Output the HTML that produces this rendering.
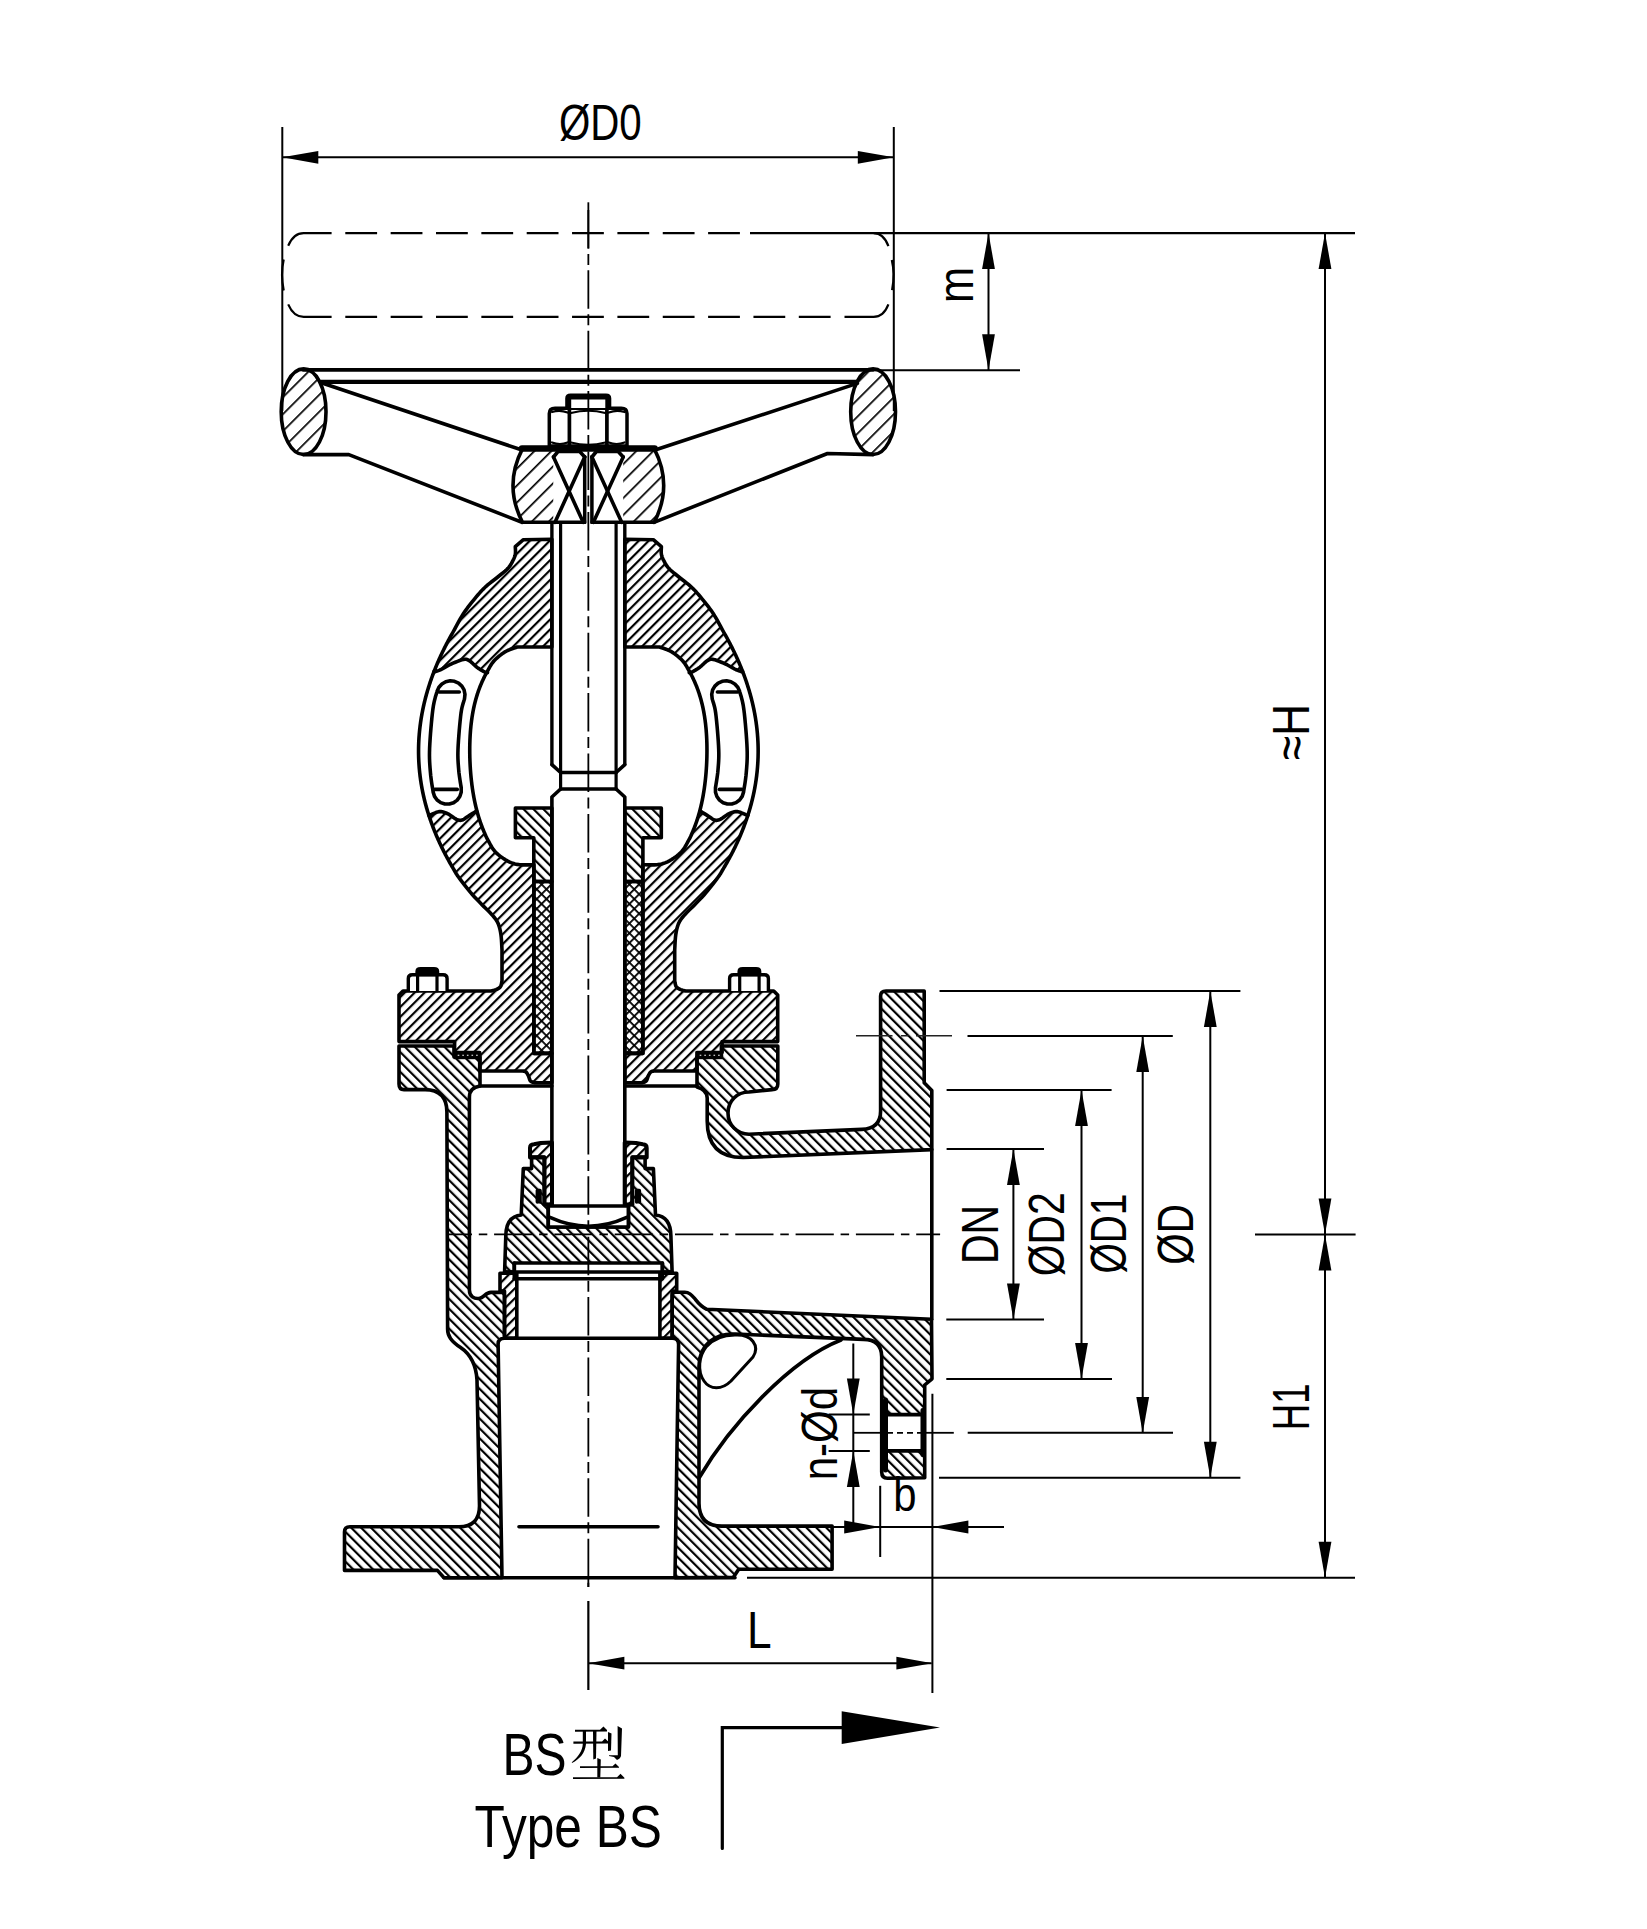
<!DOCTYPE html>
<html><head><meta charset="utf-8"><style>html,body{margin:0;padding:0;background:#fff;overflow:hidden}svg{display:block}</style></head>
<body>
<svg width="1647" height="1929" viewBox="0 0 1647 1929">
<defs>
<pattern id="hs" patternUnits="userSpaceOnUse" width="7" height="7" patternTransform="rotate(45)"><rect x="0" y="0" width="2.2" height="7" fill="#000"/></pattern>
<pattern id="hb" patternUnits="userSpaceOnUse" width="7" height="7" patternTransform="rotate(-45)"><rect x="0" y="0" width="2.2" height="7" fill="#000"/></pattern>
<pattern id="hw" patternUnits="userSpaceOnUse" width="12" height="12" patternTransform="rotate(45)"><rect x="0" y="0" width="1.7" height="12" fill="#000"/></pattern>
<pattern id="hx" patternUnits="userSpaceOnUse" width="6.9" height="6.9" patternTransform="rotate(45)"><rect x="0" y="0" width="1.8" height="6.9" fill="#000"/><rect x="0" y="0" width="6.9" height="1.8" fill="#000"/></pattern>
</defs>
<style>
.o{fill:none;stroke:#000;stroke-width:3.6;stroke-linejoin:round;stroke-linecap:round}
.ot{fill:none;stroke:#000;stroke-width:4;stroke-linejoin:round;stroke-linecap:round}
.d{fill:none;stroke:#000;stroke-width:2}
.c{fill:none;stroke:#000;stroke-width:1.6;stroke-dasharray:38 6 10 6}
.ar{fill:#000;stroke:none}
.hs{fill:url(#hs);stroke:none}
.hb{fill:url(#hb);stroke:none}
.hx{fill:url(#hx);stroke:none}
.hw{fill:url(#hw);stroke:none}
.w{fill:#fff;stroke:none}
.ow{fill:#fff;stroke:#000;stroke-width:3;stroke-linejoin:round}
text{font-family:"Liberation Sans",sans-serif;fill:#000}
</style>
<rect width="1647" height="1929" fill="#fff"/>
<path d="M288.2,245.7 C291.5,238 296.5,233.1 303.6,233.1 L331.6,233.1" fill="none" stroke="#000" stroke-width="2.2"/>
<path d="M283.7,259.5 C281.8,268 281.8,281 283.7,290.5" fill="none" stroke="#000" stroke-width="2.2"/>
<path d="M288.2,304.4 C291.5,312 296.5,316.9 303.6,316.9 L331.6,316.9" fill="none" stroke="#000" stroke-width="2.2"/>
<path d="M873.6,233.1 C880.5,233.1 885.5,238 888.4,246.2" fill="none" stroke="#000" stroke-width="2.2"/>
<path d="M891.8,259.9 C893.8,268 893.8,281 892.1,290.1" fill="none" stroke="#000" stroke-width="2.2"/>
<path d="M844.5,316.9 L873.6,316.9 C880.5,316.9 885.5,312 888.4,304.4" fill="none" stroke="#000" stroke-width="2.2"/>
<line x1="345.3" y1="233.1" x2="750" y2="233.1" stroke="#000" stroke-width="2.2" stroke-dasharray="31.8 13.55"/>
<line x1="345.3" y1="316.9" x2="831" y2="316.9" stroke="#000" stroke-width="2.2" stroke-dasharray="31.8 13.55"/>
<line class="d" x1="750" y1="233.1" x2="1355" y2="233.1" style="stroke-width:2.2"/>
<ellipse class="hw" cx="303.6" cy="411.7" rx="22.4" ry="42.8"/>
<ellipse class="o" cx="303.6" cy="411.7" rx="22.4" ry="42.8"/>
<ellipse class="hw" cx="873.1" cy="411.7" rx="22.4" ry="42.8"/>
<ellipse class="o" cx="873.1" cy="411.7" rx="22.4" ry="42.8"/>
<line class="o" x1="303" y1="369.8" x2="873" y2="369.8" style="stroke-width:3.8"/>
<line class="o" x1="321" y1="381.8" x2="856" y2="381.8" style="stroke-width:4.2"/>
<path class="o" d="M322,383 L522,450" />
<path class="o" d="M303,454.6 L348.8,454.6 L522,522.3" />
<path class="o" d="M857.4,383.4 L655,450" />
<path class="o" d="M873,454.6 L827.5,453.5 L654,522.3" />
<path class="hw" d="M522.5,448.6 L654.2,448.6 Q673.2,485.5 654.2,522.3 L522.5,522.3 Q503.5,485.5 522.5,448.6 Z" />
<rect class="w" x="553.5" y="451" width="31.5" height="71.6"/>
<rect class="w" x="553.5" y="451" width="69.7" height="71.3"/>
<path class="o" d="M522.5,448.6 L654.2,448.6 Q673.2,485.5 654.2,522.3 L522.5,522.3 Q503.5,485.5 522.5,448.6 Z" />
<line class="o" x1="522" y1="448.4" x2="654.6" y2="448.4" style="stroke-width:6.5"/>
<rect class="w" x="586.2" y="519.5" width="4.3" height="5.5"/>
<path class="o" d="M553.5,457 L558,451.5 L579.7,451.5 L584.7,457" />
<path class="o" d="M553.5,457 L583.2,522.3" />
<path class="o" d="M584.7,457 L555,522.3" />
<path class="o" d="M591.9,457 L596.4,451.5 L618.2,451.5 L623.2,457" />
<path class="o" d="M591.9,457 L621.7,522.3" />
<path class="o" d="M623.2,457 L593.4,522.3" />
<line class="o" x1="584.7" y1="457" x2="584.7" y2="522.3" style="stroke-width:3.5"/>
<line class="o" x1="591.9" y1="457" x2="591.9" y2="522.3" style="stroke-width:3.5"/>
<path class="ow" d="M549.3,446 L549.3,413.5 Q549.3,408.2 555,408.2 L621.3,408.2 Q627,408.2 627,413.5 L627,446 Z" style="stroke-width:3.5"/>
<line class="o" x1="569.4" y1="408.2" x2="569.4" y2="446" style="stroke-width:3.7"/>
<line class="o" x1="606.9" y1="408.2" x2="606.9" y2="446" style="stroke-width:3.7"/>
<path class="o" d="M571,413 Q588.2,408.5 605.3,413" style="stroke-width:2.2"/>
<path class="o" d="M571,442.5 Q588.2,447 605.3,442.5" style="stroke-width:2.2"/>
<path class="o" d="M552,412 Q560,409.5 567.5,412.5" style="stroke-width:2.2"/>
<path class="o" d="M552,442.5 Q560,445.5 567.5,442.5" style="stroke-width:2.2"/>
<path class="o" d="M608.8,412.5 Q616.5,409.5 624.5,412" style="stroke-width:2.2"/>
<path class="o" d="M608.8,442.5 Q616.5,445.5 624.5,442.5" style="stroke-width:2.2"/>
<path d="M568.2,408 L568.2,398.5 Q568.2,396.6 570.5,396.6 L606,396.6 Q608.3,396.6 608.3,398.5 L608.3,408" fill="#fff" stroke="#000" stroke-width="6" stroke-linejoin="round"/>
<line class="o" x1="551.9" y1="522.6" x2="551.9" y2="764.6" style="stroke-width:3.4"/>
<line class="o" x1="624.8" y1="522.6" x2="624.8" y2="764.6" style="stroke-width:3.4"/>
<line class="o" x1="560.6" y1="522.6" x2="560.6" y2="789" style="stroke-width:3.2"/>
<line class="o" x1="616.1" y1="522.6" x2="616.1" y2="789" style="stroke-width:3.2"/>
<path class="o" d="M551.9,764.6 L560.6,772.5" />
<path class="o" d="M624.8,764.6 L616.1,772.5" />
<path class="o" d="M560.6,789 L551.9,797 L551.9,1206" />
<path class="o" d="M616.1,789 L624.8,797 L624.8,1206" />
<line class="o" x1="560.6" y1="772.5" x2="616.1" y2="772.5" />
<line class="o" x1="560.6" y1="789" x2="616.1" y2="789" />
<path class="hs" d="M551.9,539.3 523.4,539.7 515.3,546.7 515.33,547.55 515.4,548.72 515.48,550.11 515.51,551.6 515.46,553.07 515.3,554.4 515.02,555.61 514.64,556.79 514.19,557.94 513.67,559.09 513.1,560.24 512.5,561.4 511.9,562.55 511.3,563.67 510.66,564.8 509.91,565.95 509.01,567.14 507.9,568.4 506.55,569.73 505,571.12 503.29,572.56 501.49,574.02 499.64,575.51 497.8,577 495.92,578.49 493.96,579.99 491.95,581.51 489.94,583.06 487.98,584.65 486.1,586.3 484.35,587.96 482.7,589.61 481.1,591.31 479.49,593.11 477.8,595.05 476,597.2 474.03,599.58 471.93,602.15 469.77,604.88 467.6,607.7 465.49,610.59 463.5,613.5 461.57,616.59 459.63,619.93 457.76,623.33 456,626.6 454.42,629.56 453.09,632 452.06,633.83 451.3,635.19 450.71,636.22 450.23,637.09 449.74,637.97 449.18,639 448.55,640.17 447.93,641.33 447.31,642.5 446.7,643.67 446.1,644.83 445.5,646 444.91,647.17 444.33,648.33 443.75,649.5 443.18,650.67 442.61,651.83 442.06,653 441.5,654.17 440.96,655.33 440.42,656.5 439.89,657.67 439.36,658.83 438.84,660 438.33,661.17 437.82,662.33 437.32,663.5 436.83,664.67 436.34,665.83 435.86,667 435.39,668.17 434.92,669.33 434.46,670.5 434,671.67 435.17,671.67 436.05,671.39 437.12,671.04 438.33,670.61 439.63,670.1 441,669.5 442.45,668.77 444.01,667.9 445.68,666.94 447.43,665.96 449.24,664.99 451.1,664.1 453.1,663.2 455.29,662.25 457.54,661.31 459.73,660.47 461.76,659.81 463.5,659.4 464.89,659.25 466.03,659.3 466.99,659.52 467.87,659.89 468.78,660.39 469.8,661 470.92,661.78 472.06,662.78 473.21,663.91 474.39,665.07 475.58,666.2 476.8,667.2 478.1,668.12 479.49,669.03 480.9,669.89 482.26,670.69 483.48,671.37 484.5,671.9 485.31,672.26 485.96,672.46 486.48,672.54 486.9,672.57 487.23,672.57 487.5,672.6 487,672 487.9,670.38 488.88,668.57 489.95,666.65 491.13,664.7 492.44,662.79 493.9,661 495.56,659.29 497.42,657.57 499.4,655.9 501.45,654.32 503.51,652.87 505.5,651.6 507.58,650.5 509.83,649.54 512.08,648.71 514.16,648.01 515.93,647.44 517.2,647 551.9,647 Z" />
<path class="o" d="M551.9,539.3 523.4,539.7 515.3,546.7 515.33,547.55 515.4,548.72 515.48,550.11 515.51,551.6 515.46,553.07 515.3,554.4 515.02,555.61 514.64,556.79 514.19,557.94 513.67,559.09 513.1,560.24 512.5,561.4 511.9,562.55 511.3,563.67 510.66,564.8 509.91,565.95 509.01,567.14 507.9,568.4 506.55,569.73 505,571.12 503.29,572.56 501.49,574.02 499.64,575.51 497.8,577 495.92,578.49 493.96,579.99 491.95,581.51 489.94,583.06 487.98,584.65 486.1,586.3 484.35,587.96 482.7,589.61 481.1,591.31 479.49,593.11 477.8,595.05 476,597.2 474.03,599.58 471.93,602.15 469.77,604.88 467.6,607.7 465.49,610.59 463.5,613.5 461.57,616.59 459.63,619.93 457.76,623.33 456,626.6 454.42,629.56 453.09,632 452.06,633.83 451.3,635.19 450.71,636.22 450.23,637.09 449.74,637.97 449.18,639 448.55,640.17 447.93,641.33 447.31,642.5 446.7,643.67 446.1,644.83 445.5,646 444.91,647.17 444.33,648.33 443.75,649.5 443.18,650.67 442.61,651.83 442.06,653 441.5,654.17 440.96,655.33 440.42,656.5 439.89,657.67 439.36,658.83 438.84,660 438.33,661.17 437.82,662.33 437.32,663.5 436.83,664.67 436.34,665.83 435.86,667 435.39,668.17 434.92,669.33 434.46,670.5 434,671.67 435.17,671.67 436.05,671.39 437.12,671.04 438.33,670.61 439.63,670.1 441,669.5 442.45,668.77 444.01,667.9 445.68,666.94 447.43,665.96 449.24,664.99 451.1,664.1 453.1,663.2 455.29,662.25 457.54,661.31 459.73,660.47 461.76,659.81 463.5,659.4 464.89,659.25 466.03,659.3 466.99,659.52 467.87,659.89 468.78,660.39 469.8,661 470.92,661.78 472.06,662.78 473.21,663.91 474.39,665.07 475.58,666.2 476.8,667.2 478.1,668.12 479.49,669.03 480.9,669.89 482.26,670.69 483.48,671.37 484.5,671.9 485.31,672.26 485.96,672.46 486.48,672.54 486.9,672.57 487.23,672.57 487.5,672.6 487,672 487.9,670.38 488.88,668.57 489.95,666.65 491.13,664.7 492.44,662.79 493.9,661 495.56,659.29 497.42,657.57 499.4,655.9 501.45,654.32 503.51,652.87 505.5,651.6 507.58,650.5 509.83,649.54 512.08,648.71 514.16,648.01 515.93,647.44 517.2,647 551.9,647 Z" />
<path class="hs" d="M624.8,539.3 653.3,539.7 661.4,546.7 661.37,547.55 661.3,548.72 661.23,550.11 661.19,551.6 661.24,553.07 661.4,554.4 661.68,555.61 662.06,556.79 662.51,557.94 663.03,559.09 663.6,560.24 664.2,561.4 664.8,562.55 665.4,563.67 666.04,564.8 666.79,565.95 667.69,567.14 668.8,568.4 670.15,569.73 671.7,571.12 673.41,572.56 675.21,574.02 677.06,575.51 678.9,577 680.78,578.49 682.74,579.99 684.75,581.51 686.76,583.06 688.72,584.65 690.6,586.3 692.35,587.96 694,589.61 695.6,591.31 697.21,593.11 698.9,595.05 700.7,597.2 702.67,599.58 704.77,602.15 706.93,604.88 709.1,607.7 711.21,610.59 713.2,613.5 715.13,616.59 717.07,619.93 718.94,623.33 720.7,626.6 722.28,629.56 723.61,632 724.64,633.83 725.4,635.19 725.99,636.22 726.47,637.09 726.96,637.97 727.52,639 728.15,640.17 728.77,641.33 729.39,642.5 730,643.67 730.6,644.83 731.2,646 731.79,647.17 732.37,648.33 732.95,649.5 733.52,650.67 734.09,651.83 734.64,653 735.2,654.17 735.74,655.33 736.28,656.5 736.81,657.67 737.34,658.83 737.86,660 738.37,661.17 738.88,662.33 739.38,663.5 739.87,664.67 740.36,665.83 740.84,667 741.31,668.17 741.78,669.33 742.24,670.5 742.7,671.67 741.53,671.67 740.65,671.39 739.58,671.04 738.37,670.61 737.07,670.1 735.7,669.5 734.25,668.77 732.69,667.9 731.02,666.94 729.27,665.96 727.46,664.99 725.6,664.1 723.6,663.2 721.41,662.25 719.16,661.31 716.97,660.47 714.94,659.81 713.2,659.4 711.81,659.25 710.67,659.3 709.71,659.52 708.83,659.89 707.92,660.39 706.9,661 705.78,661.78 704.64,662.78 703.49,663.91 702.31,665.07 701.12,666.2 699.9,667.2 698.6,668.12 697.21,669.03 695.8,669.89 694.44,670.69 693.22,671.37 692.2,671.9 691.39,672.26 690.74,672.46 690.22,672.54 689.8,672.57 689.47,672.57 689.2,672.6 689.7,672 688.8,670.38 687.82,668.57 686.75,666.65 685.57,664.7 684.26,662.79 682.8,661 681.14,659.29 679.28,657.57 677.3,655.9 675.25,654.32 673.19,652.87 671.2,651.6 669.12,650.5 666.87,649.54 664.62,648.71 662.54,648.01 660.77,647.44 659.5,647 624.8,647 Z" />
<path class="o" d="M624.8,539.3 653.3,539.7 661.4,546.7 661.37,547.55 661.3,548.72 661.23,550.11 661.19,551.6 661.24,553.07 661.4,554.4 661.68,555.61 662.06,556.79 662.51,557.94 663.03,559.09 663.6,560.24 664.2,561.4 664.8,562.55 665.4,563.67 666.04,564.8 666.79,565.95 667.69,567.14 668.8,568.4 670.15,569.73 671.7,571.12 673.41,572.56 675.21,574.02 677.06,575.51 678.9,577 680.78,578.49 682.74,579.99 684.75,581.51 686.76,583.06 688.72,584.65 690.6,586.3 692.35,587.96 694,589.61 695.6,591.31 697.21,593.11 698.9,595.05 700.7,597.2 702.67,599.58 704.77,602.15 706.93,604.88 709.1,607.7 711.21,610.59 713.2,613.5 715.13,616.59 717.07,619.93 718.94,623.33 720.7,626.6 722.28,629.56 723.61,632 724.64,633.83 725.4,635.19 725.99,636.22 726.47,637.09 726.96,637.97 727.52,639 728.15,640.17 728.77,641.33 729.39,642.5 730,643.67 730.6,644.83 731.2,646 731.79,647.17 732.37,648.33 732.95,649.5 733.52,650.67 734.09,651.83 734.64,653 735.2,654.17 735.74,655.33 736.28,656.5 736.81,657.67 737.34,658.83 737.86,660 738.37,661.17 738.88,662.33 739.38,663.5 739.87,664.67 740.36,665.83 740.84,667 741.31,668.17 741.78,669.33 742.24,670.5 742.7,671.67 741.53,671.67 740.65,671.39 739.58,671.04 738.37,670.61 737.07,670.1 735.7,669.5 734.25,668.77 732.69,667.9 731.02,666.94 729.27,665.96 727.46,664.99 725.6,664.1 723.6,663.2 721.41,662.25 719.16,661.31 716.97,660.47 714.94,659.81 713.2,659.4 711.81,659.25 710.67,659.3 709.71,659.52 708.83,659.89 707.92,660.39 706.9,661 705.78,661.78 704.64,662.78 703.49,663.91 702.31,665.07 701.12,666.2 699.9,667.2 698.6,668.12 697.21,669.03 695.8,669.89 694.44,670.69 693.22,671.37 692.2,671.9 691.39,672.26 690.74,672.46 690.22,672.54 689.8,672.57 689.47,672.57 689.2,672.6 689.7,672 688.8,670.38 687.82,668.57 686.75,666.65 685.57,664.7 684.26,662.79 682.8,661 681.14,659.29 679.28,657.57 677.3,655.9 675.25,654.32 673.19,652.87 671.2,651.6 669.12,650.5 666.87,649.54 664.62,648.71 662.54,648.01 660.77,647.44 659.5,647 624.8,647 Z" />
<path class="o" d="M434,671.67 433.56,672.83 433.11,674 432.68,675.17 432.25,676.33 431.83,677.5 431.41,678.67 431,679.83 430.6,681 430.21,682.17 429.82,683.33 429.43,684.5 429.06,685.67 428.69,686.83 428.33,688 427.97,689.17 427.62,690.33 427.28,691.5 426.94,692.67 426.61,693.83 426.28,695 425.97,696.17 425.66,697.33 425.35,698.5 425.06,699.67 424.77,700.83 424.48,702 424.2,703.17 423.93,704.33 423.67,705.5 423.41,706.67 423.16,707.83 422.91,709 422.68,710.17 422.45,711.33 422.22,712.5 422,713.67 421.79,714.83 421.59,716 421.39,717.17 421.2,718.33 421.01,719.5 420.83,720.67 420.66,721.83 420.5,723 420.34,724.17 420.19,725.33 420.04,726.5 419.91,727.67 419.77,728.83 419.65,730 419.53,731.17 419.42,732.33 419.31,733.5 419.22,734.67 419.13,735.83 419.04,737 418.96,738.17 418.89,739.33 418.83,740.5 418.77,741.67 418.72,742.83 418.67,744 418.64,745.17 418.6,746.33 418.58,747.5 418.56,748.67 418.55,749.83 418.55,751 418.55,752.17 418.56,753.33 418.58,754.5 418.6,755.67 418.63,756.83 418.66,758 418.71,759.17 418.76,760.33 418.81,761.5 418.88,762.67 418.95,763.83 419.03,765 419.11,766.17 419.2,767.33 419.3,768.5 419.4,769.67 419.51,770.83 419.63,772 419.75,773.17 419.89,774.33 420.02,775.5 420.17,776.67 420.32,777.83 420.48,779 420.64,780.17 420.82,781.33 421,782.5 421.18,783.67 421.37,784.83 421.57,786 421.78,787.17 421.99,788.33 422.21,789.5 422.44,790.67 422.67,791.83 422.92,793 423.16,794.17 423.42,795.33 423.68,796.5 423.95,797.67 424.22,798.83 424.5,800 424.79,801.17 425.09,802.33 425.39,803.5 425.7,804.67 426.02,805.83 426.34,807 426.67,808.17 427.01,809.33 427.35,810.5 427.7,811.67 428.06,812.83 428.42,814 428.79,815.17" />
<path class="o" d="M487,672 486.19,673.4 485.52,674.63 484.94,675.75 484.41,676.81 483.89,677.88 483.36,679 482.81,680.17 482.28,681.33 481.76,682.5 481.26,683.67 480.77,684.83 480.29,686 479.83,687.17 479.39,688.33 478.96,689.5 478.54,690.67 478.13,691.83 477.74,693 477.36,694.17 476.99,695.33 476.63,696.5 476.29,697.67 475.96,698.83 475.63,700 475.32,701.17 475.02,702.33 474.73,703.5 474.45,704.67 474.18,705.83 473.92,707 473.67,708.17 473.43,709.33 473.2,710.5 472.98,711.67 472.77,712.83 472.56,714 472.37,715.17 472.18,716.33 472,717.5 471.83,718.67 471.67,719.83 471.51,721 471.36,722.17 471.22,723.33 471.09,724.5 470.96,725.67 470.84,726.83 470.73,728 470.62,729.17 470.52,730.33 470.43,731.5 470.35,732.67 470.26,733.83 470.19,735 470.12,736.17 470.06,737.33 470,738.5 469.95,739.67 469.91,740.83 469.87,742 469.83,743.17 469.8,744.33 469.78,745.5 469.76,746.67 469.75,747.83 469.74,749 469.74,750.17 469.74,751.33 469.75,752.5 469.76,753.67 469.78,754.83 469.8,756 469.82,757.17 469.86,758.33 469.89,759.5 469.93,760.67 469.98,761.83 470.03,763 470.09,764.17 470.15,765.33 470.21,766.5 470.29,767.67 470.36,768.83 470.44,770 470.53,771.17 470.62,772.33 470.71,773.5 470.81,774.67 470.92,775.83 471.03,777 471.15,778.17 471.27,779.33 471.4,780.5 471.53,781.67 471.67,782.83 471.81,784 471.96,785.17 472.11,786.33 472.27,787.5 472.44,788.67 472.61,789.83 472.79,791 472.98,792.17 473.17,793.33 473.37,794.5 473.57,795.67 473.78,796.83 474,798 474.23,799.17 474.46,800.33 474.7,801.5 474.94,802.67 475.2,803.83 475.46,805 475.73,806.17 476.01,807.33 476.3,808.5 476.59,809.67 476.89,810.83" />
<path class="o" d="M742.7,671.67 743.14,672.83 743.59,674 744.02,675.17 744.45,676.33 744.87,677.5 745.29,678.67 745.7,679.83 746.1,681 746.49,682.17 746.88,683.33 747.27,684.5 747.64,685.67 748.01,686.83 748.37,688 748.73,689.17 749.08,690.33 749.42,691.5 749.76,692.67 750.09,693.83 750.42,695 750.73,696.17 751.04,697.33 751.35,698.5 751.64,699.67 751.93,700.83 752.22,702 752.5,703.17 752.77,704.33 753.03,705.5 753.29,706.67 753.54,707.83 753.79,709 754.02,710.17 754.25,711.33 754.48,712.5 754.7,713.67 754.91,714.83 755.11,716 755.31,717.17 755.5,718.33 755.69,719.5 755.87,720.67 756.04,721.83 756.2,723 756.36,724.17 756.51,725.33 756.66,726.5 756.79,727.67 756.93,728.83 757.05,730 757.17,731.17 757.28,732.33 757.39,733.5 757.48,734.67 757.57,735.83 757.66,737 757.74,738.17 757.81,739.33 757.87,740.5 757.93,741.67 757.98,742.83 758.03,744 758.06,745.17 758.1,746.33 758.12,747.5 758.14,748.67 758.15,749.83 758.15,751 758.15,752.17 758.14,753.33 758.12,754.5 758.1,755.67 758.07,756.83 758.04,758 757.99,759.17 757.94,760.33 757.89,761.5 757.82,762.67 757.75,763.83 757.67,765 757.59,766.17 757.5,767.33 757.4,768.5 757.3,769.67 757.19,770.83 757.07,772 756.95,773.17 756.81,774.33 756.68,775.5 756.53,776.67 756.38,777.83 756.22,779 756.06,780.17 755.88,781.33 755.7,782.5 755.52,783.67 755.33,784.83 755.13,786 754.92,787.17 754.71,788.33 754.49,789.5 754.26,790.67 754.03,791.83 753.78,793 753.54,794.17 753.28,795.33 753.02,796.5 752.75,797.67 752.48,798.83 752.2,800 751.91,801.17 751.61,802.33 751.31,803.5 751,804.67 750.68,805.83 750.36,807 750.03,808.17 749.69,809.33 749.35,810.5 749,811.67 748.64,812.83 748.28,814 747.91,815.17" />
<path class="o" d="M689.7,672 690.51,673.4 691.18,674.63 691.76,675.75 692.29,676.81 692.81,677.88 693.34,679 693.89,680.17 694.42,681.33 694.94,682.5 695.44,683.67 695.93,684.83 696.41,686 696.87,687.17 697.31,688.33 697.74,689.5 698.16,690.67 698.57,691.83 698.96,693 699.34,694.17 699.71,695.33 700.07,696.5 700.41,697.67 700.74,698.83 701.07,700 701.38,701.17 701.68,702.33 701.97,703.5 702.25,704.67 702.52,705.83 702.78,707 703.03,708.17 703.27,709.33 703.5,710.5 703.72,711.67 703.93,712.83 704.14,714 704.33,715.17 704.52,716.33 704.7,717.5 704.87,718.67 705.03,719.83 705.19,721 705.34,722.17 705.48,723.33 705.61,724.5 705.74,725.67 705.86,726.83 705.97,728 706.08,729.17 706.18,730.33 706.27,731.5 706.35,732.67 706.44,733.83 706.51,735 706.58,736.17 706.64,737.33 706.7,738.5 706.75,739.67 706.79,740.83 706.83,742 706.87,743.17 706.9,744.33 706.92,745.5 706.94,746.67 706.95,747.83 706.96,749 706.96,750.17 706.96,751.33 706.95,752.5 706.94,753.67 706.92,754.83 706.9,756 706.88,757.17 706.84,758.33 706.81,759.5 706.77,760.67 706.72,761.83 706.67,763 706.61,764.17 706.55,765.33 706.49,766.5 706.41,767.67 706.34,768.83 706.26,770 706.17,771.17 706.08,772.33 705.99,773.5 705.89,774.67 705.78,775.83 705.67,777 705.55,778.17 705.43,779.33 705.3,780.5 705.17,781.67 705.03,782.83 704.89,784 704.74,785.17 704.59,786.33 704.43,787.5 704.26,788.67 704.09,789.83 703.91,791 703.72,792.17 703.53,793.33 703.33,794.5 703.13,795.67 702.92,796.83 702.7,798 702.47,799.17 702.24,800.33 702,801.5 701.76,802.67 701.5,803.83 701.24,805 700.97,806.17 700.69,807.33 700.4,808.5 700.11,809.67 699.81,810.83" />
<path class="o" d="M464.51,698.71 464.13,700.09 463.65,701.67 463.18,703.16 462.72,704.73 462.26,706.46 461.81,708.43 461.38,710.7 460.97,713.38 460.56,716.85 460.11,721.13 459.65,725.9 459.21,730.94 458.8,736.03 458.45,740.95 458.17,745.47 457.99,749.34 457.9,752.62 457.88,755.54 457.93,758.21 458.03,760.69 458.17,763.08 458.34,765.45 458.54,767.89 458.74,770.32 458.97,772.69 459.27,775.11 459.61,777.59 459.98,780.04 460.35,782.37 460.7,784.5 461.01,786.38 461.24,787.85 461.21,792.29 459.82,796.51 457.19,800.09 453.58,802.68 449.35,804.04 444.91,804.01 440.69,802.62 437.11,799.99 434.52,796.38 433.16,792.15 432.96,790.84 432.68,789.09 432.32,786.91 431.92,784.41 431.5,781.67 431.1,778.77 430.74,775.78 430.46,772.88 430.24,770.23 430.02,767.64 429.83,764.94 429.66,762.07 429.54,759 429.48,755.7 429.5,752.13 429.61,748.26 429.82,743.91 430.11,739.07 430.48,733.89 430.91,728.57 431.37,723.31 431.85,718.28 432.34,713.68 432.83,709.62 433.37,705.96 434.01,702.62 434.69,699.67 435.36,697.11 435.99,694.97 436.51,693.29 436.86,692.17 437.09,691.29 438.91,687.23 441.89,683.94 445.75,681.73 450.1,680.82 454.51,681.29 458.57,683.11 461.86,686.09 464.07,689.95 464.98,694.3 Z" />
<path class="o" d="M712.19,698.71 712.57,700.09 713.05,701.67 713.52,703.16 713.98,704.73 714.44,706.46 714.89,708.43 715.32,710.7 715.73,713.38 716.14,716.85 716.59,721.13 717.05,725.9 717.49,730.94 717.9,736.03 718.25,740.95 718.53,745.47 718.71,749.34 718.8,752.62 718.82,755.54 718.77,758.21 718.67,760.69 718.53,763.08 718.36,765.45 718.16,767.89 717.96,770.32 717.73,772.69 717.43,775.11 717.09,777.59 716.72,780.04 716.35,782.37 716,784.5 715.69,786.38 715.46,787.85 715.49,792.29 716.88,796.51 719.51,800.09 723.12,802.68 727.35,804.04 731.79,804.01 736.01,802.62 739.59,799.99 742.18,796.38 743.54,792.15 743.74,790.84 744.02,789.09 744.38,786.91 744.78,784.41 745.2,781.67 745.6,778.77 745.96,775.78 746.24,772.88 746.46,770.23 746.68,767.64 746.87,764.94 747.04,762.07 747.16,759 747.22,755.7 747.2,752.13 747.09,748.26 746.88,743.91 746.59,739.07 746.22,733.89 745.79,728.57 745.33,723.31 744.85,718.28 744.36,713.68 743.87,709.62 743.33,705.96 742.69,702.62 742.01,699.67 741.34,697.11 740.71,694.97 740.19,693.29 739.84,692.17 739.61,691.29 737.79,687.23 734.81,683.94 730.95,681.73 726.6,680.82 722.19,681.29 718.13,683.11 714.84,686.09 712.63,689.95 711.72,694.3 Z" />
<path class="o" d="M439,692 L459.3,692" />
<path class="o" d="M737.7,692 L717.4,692" />
<path class="o" d="M434.9,789.4 L457.3,789.4" />
<path class="o" d="M741.8,789.4 L719.4,789.4" />
<path class="hs" d="M429.5,815.4 430.59,814.92 432.11,814.19 433.91,813.36 435.83,812.56 437.71,811.92 439.4,811.6 440.91,811.59 442.37,811.8 443.79,812.17 445.19,812.68 446.59,813.27 448,813.9 449.46,814.67 450.95,815.64 452.44,816.69 453.89,817.73 455.26,818.63 456.5,819.3 457.58,819.75 458.53,820.08 459.39,820.28 460.23,820.35 461.08,820.29 462,820.1 462.97,819.74 463.94,819.2 464.92,818.52 465.95,817.77 467.04,816.98 468.2,816.2 469.56,815.35 471.12,814.37 472.74,813.36 474.27,812.4 475.57,811.58 476.5,811 477.21,812 477.53,813.17 477.86,814.33 478.2,815.5 478.55,816.67 478.91,817.83 479.28,819 479.66,820.17 480.05,821.33 480.45,822.5 480.86,823.67 481.28,824.83 481.72,826 482.16,827.17 482.62,828.33 483.09,829.5 483.57,830.67 484.06,831.83 484.57,833 485.06,834.12 485.52,835.18 485.99,836.24 486.52,837.36 487.14,838.59 487.9,840 488.79,841.65 489.76,843.52 490.83,845.5 492.01,847.5 493.3,849.44 494.7,851.2 496.26,852.83 497.97,854.41 499.79,855.91 501.69,857.33 503.6,858.63 505.5,859.8 507.35,860.85 509.19,861.79 511.05,862.61 512.98,863.33 515.01,863.92 517.2,864.4 519.75,864.71 522.69,864.86 525.73,864.89 528.61,864.85 531.06,864.81 532.8,864.8 533.9,864.8 533.9,1053.4 551.9,1053.4 551.9,1082.8 535,1082.8 534.13,1082.55 532.88,1082.21 531.55,1081.72 530.5,1081 529.84,1079.95 529.38,1078.64 528.98,1077.25 528.5,1076 527.92,1074.86 527.32,1073.75 526.68,1072.77 526,1072 525.19,1071.52 524.29,1071.25 523.47,1071.11 522.9,1071 479.7,1071 479.7,1052.5 454.6,1052.5 454.6,1041.6 399,1041.6 399,995 403,991 491,991 492.24,990.66 494.04,990.19 495.95,989.62 497.5,989 498.6,988.37 499.48,987.71 500.2,986.94 500.8,986 501.28,984.71 501.61,983.16 501.83,981.71 502,980.7 502,950 501.9,948.26 501.79,945.81 501.64,942.92 501.46,939.88 501.21,936.95 500.9,934.4 500.54,932.2 500.13,930.13 499.68,928.16 499.14,926.3 498.53,924.51 497.8,922.8 496.97,921.2 496.05,919.74 495.04,918.36 493.94,917.01 492.76,915.64 491.5,914.2 490.15,912.73 488.71,911.27 487.19,909.79 485.59,908.26 483.92,906.64 482.2,904.9 480.39,903.04 478.49,901.08 476.52,899.03 474.51,896.9 472.5,894.69 470.5,892.4 468.43,889.9 466.23,887.17 464.03,884.36 461.93,881.62 460.04,879.11 458.48,877 457.31,875.35 456.45,874.04 455.81,872.98 455.27,872.02 454.75,871.07 454.13,870 453.43,868.83 452.73,867.67 452.05,866.5 451.37,865.33 450.69,864.17 450.03,863 449.37,861.83 448.72,860.67 448.08,859.5 447.44,858.33 446.81,857.17 446.19,856 445.57,854.83 444.96,853.67 444.36,852.5 443.76,851.33 443.18,850.17 442.6,849 442.02,847.83 441.46,846.67 440.9,845.5 440.34,844.33 439.8,843.17 439.26,842 438.73,840.83 438.2,839.67 437.68,838.5 437.17,837.33 436.67,836.17 436.17,835 435.68,833.83 435.2,832.67 434.73,831.5 434.26,830.33 433.79,829.17 433.34,828 432.89,826.83 432.45,825.67 432.02,824.5 431.59,823.33 431.17,822.17 430.76,821 430.35,819.83 429.95,818.67 429.56,817.5 429.17,816.33 428.79,815.17 Z" />
<path class="o" d="M429.5,815.4 430.59,814.92 432.11,814.19 433.91,813.36 435.83,812.56 437.71,811.92 439.4,811.6 440.91,811.59 442.37,811.8 443.79,812.17 445.19,812.68 446.59,813.27 448,813.9 449.46,814.67 450.95,815.64 452.44,816.69 453.89,817.73 455.26,818.63 456.5,819.3 457.58,819.75 458.53,820.08 459.39,820.28 460.23,820.35 461.08,820.29 462,820.1 462.97,819.74 463.94,819.2 464.92,818.52 465.95,817.77 467.04,816.98 468.2,816.2 469.56,815.35 471.12,814.37 472.74,813.36 474.27,812.4 475.57,811.58 476.5,811 477.21,812 477.53,813.17 477.86,814.33 478.2,815.5 478.55,816.67 478.91,817.83 479.28,819 479.66,820.17 480.05,821.33 480.45,822.5 480.86,823.67 481.28,824.83 481.72,826 482.16,827.17 482.62,828.33 483.09,829.5 483.57,830.67 484.06,831.83 484.57,833 485.06,834.12 485.52,835.18 485.99,836.24 486.52,837.36 487.14,838.59 487.9,840 488.79,841.65 489.76,843.52 490.83,845.5 492.01,847.5 493.3,849.44 494.7,851.2 496.26,852.83 497.97,854.41 499.79,855.91 501.69,857.33 503.6,858.63 505.5,859.8 507.35,860.85 509.19,861.79 511.05,862.61 512.98,863.33 515.01,863.92 517.2,864.4 519.75,864.71 522.69,864.86 525.73,864.89 528.61,864.85 531.06,864.81 532.8,864.8 533.9,864.8 533.9,1053.4 551.9,1053.4 551.9,1082.8 535,1082.8 534.13,1082.55 532.88,1082.21 531.55,1081.72 530.5,1081 529.84,1079.95 529.38,1078.64 528.98,1077.25 528.5,1076 527.92,1074.86 527.32,1073.75 526.68,1072.77 526,1072 525.19,1071.52 524.29,1071.25 523.47,1071.11 522.9,1071 479.7,1071 479.7,1052.5 454.6,1052.5 454.6,1041.6 399,1041.6 399,995 403,991 491,991 492.24,990.66 494.04,990.19 495.95,989.62 497.5,989 498.6,988.37 499.48,987.71 500.2,986.94 500.8,986 501.28,984.71 501.61,983.16 501.83,981.71 502,980.7 502,950 501.9,948.26 501.79,945.81 501.64,942.92 501.46,939.88 501.21,936.95 500.9,934.4 500.54,932.2 500.13,930.13 499.68,928.16 499.14,926.3 498.53,924.51 497.8,922.8 496.97,921.2 496.05,919.74 495.04,918.36 493.94,917.01 492.76,915.64 491.5,914.2 490.15,912.73 488.71,911.27 487.19,909.79 485.59,908.26 483.92,906.64 482.2,904.9 480.39,903.04 478.49,901.08 476.52,899.03 474.51,896.9 472.5,894.69 470.5,892.4 468.43,889.9 466.23,887.17 464.03,884.36 461.93,881.62 460.04,879.11 458.48,877 457.31,875.35 456.45,874.04 455.81,872.98 455.27,872.02 454.75,871.07 454.13,870 453.43,868.83 452.73,867.67 452.05,866.5 451.37,865.33 450.69,864.17 450.03,863 449.37,861.83 448.72,860.67 448.08,859.5 447.44,858.33 446.81,857.17 446.19,856 445.57,854.83 444.96,853.67 444.36,852.5 443.76,851.33 443.18,850.17 442.6,849 442.02,847.83 441.46,846.67 440.9,845.5 440.34,844.33 439.8,843.17 439.26,842 438.73,840.83 438.2,839.67 437.68,838.5 437.17,837.33 436.67,836.17 436.17,835 435.68,833.83 435.2,832.67 434.73,831.5 434.26,830.33 433.79,829.17 433.34,828 432.89,826.83 432.45,825.67 432.02,824.5 431.59,823.33 431.17,822.17 430.76,821 430.35,819.83 429.95,818.67 429.56,817.5 429.17,816.33 428.79,815.17 Z" />
<path class="hs" d="M747.2,815.4 746.11,814.92 744.59,814.19 742.79,813.36 740.87,812.56 738.99,811.92 737.3,811.6 735.79,811.59 734.33,811.8 732.91,812.17 731.51,812.68 730.11,813.27 728.7,813.9 727.24,814.67 725.75,815.64 724.26,816.69 722.81,817.73 721.44,818.63 720.2,819.3 719.12,819.75 718.17,820.08 717.31,820.28 716.47,820.35 715.62,820.29 714.7,820.1 713.73,819.74 712.76,819.2 711.78,818.52 710.75,817.77 709.66,816.98 708.5,816.2 707.14,815.35 705.58,814.37 703.96,813.36 702.43,812.4 701.13,811.58 700.2,811 699.49,812 699.17,813.17 698.84,814.33 698.5,815.5 698.15,816.67 697.79,817.83 697.42,819 697.04,820.17 696.65,821.33 696.25,822.5 695.84,823.67 695.42,824.83 694.98,826 694.54,827.17 694.08,828.33 693.61,829.5 693.13,830.67 692.64,831.83 692.13,833 691.64,834.12 691.18,835.18 690.71,836.24 690.18,837.36 689.56,838.59 688.8,840 687.91,841.65 686.94,843.52 685.87,845.5 684.69,847.5 683.4,849.44 682,851.2 680.44,852.83 678.73,854.41 676.91,855.91 675.01,857.33 673.1,858.63 671.2,859.8 669.35,860.85 667.51,861.79 665.65,862.61 663.72,863.33 661.69,863.92 659.5,864.4 656.95,864.71 654.01,864.86 650.97,864.89 648.09,864.85 645.64,864.81 643.9,864.8 642.8,864.8 642.8,1053.4 624.8,1053.4 624.8,1082.8 641.7,1082.8 642.57,1082.55 643.83,1082.21 645.15,1081.72 646.2,1081 646.86,1079.95 647.33,1078.64 647.72,1077.25 648.2,1076 648.78,1074.86 649.38,1073.75 650.02,1072.77 650.7,1072 651.51,1071.52 652.41,1071.25 653.23,1071.11 653.8,1071 697,1071 697,1052.5 722.1,1052.5 722.1,1041.6 777.7,1041.6 777.7,995 773.7,991 685.7,991 684.46,990.66 682.66,990.19 680.75,989.62 679.2,989 678.1,988.37 677.22,987.71 676.5,986.94 675.9,986 675.42,984.71 675.09,983.16 674.87,981.71 674.7,980.7 674.7,950 674.8,948.26 674.91,945.81 675.06,942.92 675.24,939.88 675.49,936.95 675.8,934.4 676.16,932.2 676.57,930.13 677.03,928.16 677.56,926.3 678.17,924.51 678.9,922.8 679.73,921.2 680.65,919.74 681.66,918.36 682.76,917.01 683.94,915.64 685.2,914.2 686.55,912.73 687.99,911.27 689.51,909.79 691.11,908.26 692.78,906.64 694.5,904.9 696.31,903.04 698.21,901.08 700.18,899.03 702.19,896.9 704.2,894.69 706.2,892.4 708.27,889.9 710.47,887.17 712.67,884.36 714.77,881.62 716.66,879.11 718.22,877 719.39,875.35 720.25,874.04 720.89,872.98 721.43,872.02 721.95,871.07 722.57,870 723.27,868.83 723.97,867.67 724.65,866.5 725.33,865.33 726.01,864.17 726.67,863 727.33,861.83 727.98,860.67 728.62,859.5 729.26,858.33 729.89,857.17 730.51,856 731.13,854.83 731.74,853.67 732.34,852.5 732.94,851.33 733.52,850.17 734.1,849 734.68,847.83 735.24,846.67 735.8,845.5 736.36,844.33 736.9,843.17 737.44,842 737.97,840.83 738.5,839.67 739.02,838.5 739.53,837.33 740.03,836.17 740.53,835 741.02,833.83 741.5,832.67 741.97,831.5 742.44,830.33 742.91,829.17 743.36,828 743.81,826.83 744.25,825.67 744.68,824.5 745.11,823.33 745.53,822.17 745.94,821 746.35,819.83 746.75,818.67 747.14,817.5 747.53,816.33 747.91,815.17 Z" />
<path class="o" d="M747.2,815.4 746.11,814.92 744.59,814.19 742.79,813.36 740.87,812.56 738.99,811.92 737.3,811.6 735.79,811.59 734.33,811.8 732.91,812.17 731.51,812.68 730.11,813.27 728.7,813.9 727.24,814.67 725.75,815.64 724.26,816.69 722.81,817.73 721.44,818.63 720.2,819.3 719.12,819.75 718.17,820.08 717.31,820.28 716.47,820.35 715.62,820.29 714.7,820.1 713.73,819.74 712.76,819.2 711.78,818.52 710.75,817.77 709.66,816.98 708.5,816.2 707.14,815.35 705.58,814.37 703.96,813.36 702.43,812.4 701.13,811.58 700.2,811 699.49,812 699.17,813.17 698.84,814.33 698.5,815.5 698.15,816.67 697.79,817.83 697.42,819 697.04,820.17 696.65,821.33 696.25,822.5 695.84,823.67 695.42,824.83 694.98,826 694.54,827.17 694.08,828.33 693.61,829.5 693.13,830.67 692.64,831.83 692.13,833 691.64,834.12 691.18,835.18 690.71,836.24 690.18,837.36 689.56,838.59 688.8,840 687.91,841.65 686.94,843.52 685.87,845.5 684.69,847.5 683.4,849.44 682,851.2 680.44,852.83 678.73,854.41 676.91,855.91 675.01,857.33 673.1,858.63 671.2,859.8 669.35,860.85 667.51,861.79 665.65,862.61 663.72,863.33 661.69,863.92 659.5,864.4 656.95,864.71 654.01,864.86 650.97,864.89 648.09,864.85 645.64,864.81 643.9,864.8 642.8,864.8 642.8,1053.4 624.8,1053.4 624.8,1082.8 641.7,1082.8 642.57,1082.55 643.83,1082.21 645.15,1081.72 646.2,1081 646.86,1079.95 647.33,1078.64 647.72,1077.25 648.2,1076 648.78,1074.86 649.38,1073.75 650.02,1072.77 650.7,1072 651.51,1071.52 652.41,1071.25 653.23,1071.11 653.8,1071 697,1071 697,1052.5 722.1,1052.5 722.1,1041.6 777.7,1041.6 777.7,995 773.7,991 685.7,991 684.46,990.66 682.66,990.19 680.75,989.62 679.2,989 678.1,988.37 677.22,987.71 676.5,986.94 675.9,986 675.42,984.71 675.09,983.16 674.87,981.71 674.7,980.7 674.7,950 674.8,948.26 674.91,945.81 675.06,942.92 675.24,939.88 675.49,936.95 675.8,934.4 676.16,932.2 676.57,930.13 677.03,928.16 677.56,926.3 678.17,924.51 678.9,922.8 679.73,921.2 680.65,919.74 681.66,918.36 682.76,917.01 683.94,915.64 685.2,914.2 686.55,912.73 687.99,911.27 689.51,909.79 691.11,908.26 692.78,906.64 694.5,904.9 696.31,903.04 698.21,901.08 700.18,899.03 702.19,896.9 704.2,894.69 706.2,892.4 708.27,889.9 710.47,887.17 712.67,884.36 714.77,881.62 716.66,879.11 718.22,877 719.39,875.35 720.25,874.04 720.89,872.98 721.43,872.02 721.95,871.07 722.57,870 723.27,868.83 723.97,867.67 724.65,866.5 725.33,865.33 726.01,864.17 726.67,863 727.33,861.83 727.98,860.67 728.62,859.5 729.26,858.33 729.89,857.17 730.51,856 731.13,854.83 731.74,853.67 732.34,852.5 732.94,851.33 733.52,850.17 734.1,849 734.68,847.83 735.24,846.67 735.8,845.5 736.36,844.33 736.9,843.17 737.44,842 737.97,840.83 738.5,839.67 739.02,838.5 739.53,837.33 740.03,836.17 740.53,835 741.02,833.83 741.5,832.67 741.97,831.5 742.44,830.33 742.91,829.17 743.36,828 743.81,826.83 744.25,825.67 744.68,824.5 745.11,823.33 745.53,822.17 745.94,821 746.35,819.83 746.75,818.67 747.14,817.5 747.53,816.33 747.91,815.17 Z" />
<path class="hb" d="M515.4,808 L551.9,808 L551.9,881.5 L533.8,881.5 L533.8,837.7 L515.4,837.7 Z" />
<path class="o" d="M515.4,808 L551.9,808 L551.9,881.5 L533.8,881.5 L533.8,837.7 L515.4,837.7 Z" />
<path class="hb" d="M661.3,808 L624.8,808 L624.8,881.5 L642.9,881.5 L642.9,837.7 L661.3,837.7 Z" />
<path class="o" d="M661.3,808 L624.8,808 L624.8,881.5 L642.9,881.5 L642.9,837.7 L661.3,837.7 Z" />
<path class="hx" d="M533.8,881.5 L551.9,881.5 L551.9,1053.4 L533.8,1053.4 Z" />
<path class="o" d="M533.8,881.5 L551.9,881.5 L551.9,1053.4 L533.8,1053.4 Z" />
<path class="hx" d="M642.9,881.5 L624.8,881.5 L624.8,1053.4 L642.9,1053.4 Z" />
<path class="o" d="M642.9,881.5 L624.8,881.5 L624.8,1053.4 L642.9,1053.4 Z" />
<path class="hb" d="M399,1046 L454,1046 L454,1057 L480,1057 L480,1086 C474,1087 469.4,1090 469.4,1097 L469.4,1290 C469.4,1296 474,1299.5 479.9,1298.3 C484,1297.5 485.5,1292.4 491,1292.4 L501.5,1292.4 Q504.5,1292.4 504.5,1295.5 L504.5,1338.3 Q498.1,1338.3 498.1,1344 L502,1577.7 L444,1577.7 L437.4,1570.4 L344.5,1570.4 L344.5,1532 Q344.5,1526.8 350,1526.8 L459,1526.8 Q479.5,1526.8 479.5,1506 L477,1380 C476,1364 470,1354 460.6,1347.6 C451,1341 447.6,1336 447.6,1329 L446.9,1112 Q446.9,1089.6 425,1089.6 L404,1089.6 Q399,1089.6 399,1084 Z" />
<path class="o" d="M399,1046 L454,1046 L454,1057 L480,1057 L480,1086 C474,1087 469.4,1090 469.4,1097 L469.4,1290 C469.4,1296 474,1299.5 479.9,1298.3 C484,1297.5 485.5,1292.4 491,1292.4 L501.5,1292.4 Q504.5,1292.4 504.5,1295.5 L504.5,1338.3 Q498.1,1338.3 498.1,1344 L502,1577.7 L444,1577.7 L437.4,1570.4 L344.5,1570.4 L344.5,1532 Q344.5,1526.8 350,1526.8 L459,1526.8 Q479.5,1526.8 479.5,1506 L477,1380 C476,1364 470,1354 460.6,1347.6 C451,1341 447.6,1336 447.6,1329 L446.9,1112 Q446.9,1089.6 425,1089.6 L404,1089.6 Q399,1089.6 399,1084 Z" />
<path class="hb" d="M721.4,1046 L777.8,1046 L777.8,1084 Q777.8,1089.6 772,1089.6 L749,1092 C737,1092 728,1101 728,1113 C728,1125 737,1134.2 749,1134.2 L861.9,1129.4 Q880.6,1128.5 880.6,1111 L880.6,996 Q880.6,991 886,991 L924.2,991 L924.2,1082.8 L931.8,1090.5 L931.8,1149.6 L743,1157.5 Q707.2,1157.5 707.2,1121 L707.2,1098 Q707.2,1090 697,1087 L697,1057 L721.4,1057 Z" />
<path class="o" d="M721.4,1046 L777.8,1046 L777.8,1084 Q777.8,1089.6 772,1089.6 L749,1092 C737,1092 728,1101 728,1113 C728,1125 737,1134.2 749,1134.2 L861.9,1129.4 Q880.6,1128.5 880.6,1111 L880.6,996 Q880.6,991 886,991 L924.2,991 L924.2,1082.8 L931.8,1090.5 L931.8,1149.6 L743,1157.5 Q707.2,1157.5 707.2,1121 L707.2,1098 Q707.2,1090 697,1087 L697,1057 L721.4,1057 Z" />
<path class="hb" d="M672.2,1295.5 Q672.2,1292.3 675.5,1292.3 L684.8,1292.3 C689,1292.3 691,1294.5 694.7,1298.5 C697.5,1302 700,1306 706.8,1309.3 L931.5,1319.2 L932,1378.8 L924.7,1385 L924.7,1477.8 L887.4,1478.3 Q881.7,1478.3 881.7,1472 L881.7,1357 Q881.7,1339.4 863.5,1339.4 L735.2,1334 C715,1333 699,1345 699,1366 L699,1503.2 Q699,1526.1 722,1526.1 L832.1,1526.1 L832.1,1569.3 L738.7,1569.3 L733.4,1577.2 L675,1577.8 L678.6,1344.5 Q678.6,1338.3 672.2,1338.3 Z" />
<path class="o" d="M672.2,1295.5 Q672.2,1292.3 675.5,1292.3 L684.8,1292.3 C689,1292.3 691,1294.5 694.7,1298.5 C697.5,1302 700,1306 706.8,1309.3 L931.5,1319.2 L932,1378.8 L924.7,1385 L924.7,1477.8 L887.4,1478.3 Q881.7,1478.3 881.7,1472 L881.7,1357 Q881.7,1339.4 863.5,1339.4 L735.2,1334 C715,1333 699,1345 699,1366 L699,1503.2 Q699,1526.1 722,1526.1 L832.1,1526.1 L832.1,1569.3 L738.7,1569.3 L733.4,1577.2 L675,1577.8 L678.6,1344.5 Q678.6,1338.3 672.2,1338.3 Z" />
<path class="ow" d="M735,1335 C752,1334 760,1346 753,1357 L731,1381 C722,1390 710,1390 704,1381 C697,1371 699,1356 706,1347 C713,1339 724,1335 735,1335 Z" />
<path class="o" d="M699,1478 C730,1425 790,1360 841,1340" />
<line class="o" x1="479.7" y1="1086" x2="551.9" y2="1086" />
<line class="o" x1="624.8" y1="1086" x2="697" y2="1086" />
<path class="hb" d="M504.6,1272 L505.8,1236 Q506,1216.5 521.2,1215 L523.3,1168.6 L531.6,1168.6 L531.6,1157 L544.4,1157 L544.4,1204.5 L548.2,1204.5 L548.2,1227 L628.5,1227 L628.5,1204.5 L632.3,1204.5 L632.3,1157 L645.1,1157 L645.1,1168.6 L653.4,1168.6 L655.5,1215 Q670.7,1216.5 670.9,1236 L672.1,1272 L662.4,1272 L662.4,1263 L514.3,1263 L514.3,1272 Z" />
<path class="o" d="M504.6,1272 L505.8,1236 Q506,1216.5 521.2,1215 L523.3,1168.6 L531.6,1168.6 L531.6,1157 L544.4,1157 L544.4,1204.5 L548.2,1204.5 L548.2,1227 L628.5,1227 L628.5,1204.5 L632.3,1204.5 L632.3,1157 L645.1,1157 L645.1,1168.6 L653.4,1168.6 L655.5,1215 Q670.7,1216.5 670.9,1236 L672.1,1272 L662.4,1272 L662.4,1263 L514.3,1263 L514.3,1272 Z" />
<path class="hs" d="M530,1157.5 L530,1148 Q530,1144.5 534,1144.3 L540.7,1142.9 L552,1142.5 L552,1204.5 L544.4,1204.5 L544.4,1157.5 Z" />
<path class="ot" d="M530,1157.5 L530,1148 Q530,1144.5 534,1144.3 L540.7,1142.9 L552,1142.5 L552,1204.5 L544.4,1204.5 L544.4,1157.5 Z" />
<path class="hs" d="M646.7,1157.5 L646.7,1148 Q646.7,1144.5 642.7,1144.3 L636,1142.9 L624.7,1142.5 L624.7,1204.5 L632.3,1204.5 L632.3,1157.5 Z" />
<path class="ot" d="M646.7,1157.5 L646.7,1148 Q646.7,1144.5 642.7,1144.3 L636,1142.9 L624.7,1142.5 L624.7,1204.5 L632.3,1204.5 L632.3,1157.5 Z" />
<path class="o" d="M537.4,1202 L537.4,1190.6 L540,1190.6 L540,1202" />
<path class="o" d="M639.3,1202 L639.3,1190.6 L636.7,1190.6 L636.7,1202" />
<rect class="w" x="550" y="1207" width="76.7" height="19"/>
<path class="o" d="M548.3,1206 L628.4,1206 L628.4,1227 L548.3,1227 Z" />
<path class="o" d="M550,1217.4 Q588.35,1235 626.7,1217.4" />
<line class="o" x1="504.6" y1="1272" x2="672.1" y2="1272" />
<line class="o" x1="514.3" y1="1278.8" x2="662.4" y2="1278.8" />
<path class="o" d="M514.3,1263 L514.3,1278.8" />
<path class="o" d="M662.4,1263 L662.4,1278.8" />
<path class="hs" d="M500,1273.2 L516.8,1273.2 L516.8,1338.3 L504.5,1338.3 L504.5,1291 L500,1291 Z" />
<path class="o" d="M500,1273.2 L516.8,1273.2 L516.8,1338.3 L504.5,1338.3 L504.5,1291 L500,1291 Z" />
<path class="hs" d="M676.7,1273.2 L659.9,1273.2 L659.9,1338.3 L672.2,1338.3 L672.2,1291 L676.7,1291 Z" />
<path class="o" d="M676.7,1273.2 L659.9,1273.2 L659.9,1338.3 L672.2,1338.3 L672.2,1291 L676.7,1291 Z" />
<line class="o" x1="504.5" y1="1338.3" x2="672.2" y2="1338.3" />
<line class="o" x1="519" y1="1526.7" x2="658" y2="1526.7" />
<line x1="588.35" y1="209.9" x2="588.35" y2="1587" stroke="#000" stroke-width="1.8" stroke-dasharray="38.5 5.5 11 5.4"/>
<line class="d" x1="588.35" y1="202.3" x2="588.35" y2="248.5" style="stroke-width:1.8"/>
<line class="d" x1="588.35" y1="1576" x2="588.35" y2="1587" style="stroke-width:1.8"/>
<line class="d" x1="588.35" y1="1601" x2="588.35" y2="1690" style="stroke-width:2.2"/>
<line x1="448.7" y1="1234.3" x2="940.1" y2="1234.3" stroke="#000" stroke-width="1.8" stroke-dasharray="38.2 6.8 8.5 6.8" stroke-dashoffset="14.9"/>
<line x1="856" y1="1035.7" x2="952" y2="1035.7" stroke="#222" stroke-width="1.5" stroke-dasharray="36.5 8.5 7.7 7.3"/>
<line class="d" x1="853.5" y1="1432.8" x2="884" y2="1432.8" style="stroke-width:1.8"/>
<line class="d" x1="923" y1="1432.8" x2="953.8" y2="1432.8" style="stroke-width:1.8"/>
<line class="d" x1="282.3" y1="127" x2="282.3" y2="411" />
<line class="d" x1="893.8" y1="127" x2="893.8" y2="411" />
<line class="d" x1="282.3" y1="157.3" x2="893.8" y2="157.3" />
<polygon class="ar" points="282.3,157.3 318.3,150.9 318.3,163.7"/>
<polygon class="ar" points="893.8,157.3 857.8,163.7 857.8,150.9"/>
<line class="d" x1="873" y1="370.3" x2="1020" y2="370.3" />
<line class="d" x1="988.5" y1="233" x2="988.5" y2="370.3" />
<polygon class="ar" points="988.5,233 994.9,269 982.1,269"/>
<polygon class="ar" points="988.5,370.3 982.1,334.3 994.9,334.3"/>
<line class="d" x1="1325" y1="233" x2="1325" y2="1577.7" />
<polygon class="ar" points="1325,233 1331.4,269 1318.6,269"/>
<polygon class="ar" points="1325,1234.4 1318.6,1198.4 1331.4,1198.4"/>
<polygon class="ar" points="1325,1234.4 1331.4,1270.4 1318.6,1270.4"/>
<polygon class="ar" points="1325,1577.7 1318.6,1541.7 1331.4,1541.7"/>
<line class="d" x1="1255" y1="1234.4" x2="1355.6" y2="1234.4" />
<line class="d" x1="747" y1="1577.7" x2="1355" y2="1577.7" />
<line class="d" x1="939.5" y1="991" x2="1240.4" y2="991" />
<line class="d" x1="967.5" y1="1035.9" x2="1172.8" y2="1035.9" />
<line class="d" x1="946.6" y1="1090" x2="1111.6" y2="1090" />
<line class="d" x1="946.6" y1="1149.1" x2="1044" y2="1149.1" />
<line class="d" x1="946.3" y1="1319.6" x2="1044" y2="1319.6" />
<line class="d" x1="946.3" y1="1378.9" x2="1112" y2="1378.9" />
<line class="d" x1="967.7" y1="1432.8" x2="1173" y2="1432.8" />
<line class="d" x1="939" y1="1477.7" x2="1240.4" y2="1477.7" />
<line class="d" x1="1210.3" y1="991" x2="1210.3" y2="1477.7" />
<polygon class="ar" points="1210.3,991 1216.7,1027 1203.9,1027"/>
<polygon class="ar" points="1210.3,1477.7 1203.9,1441.7 1216.7,1441.7"/>
<line class="d" x1="1142.7" y1="1035.9" x2="1142.7" y2="1432.9" />
<polygon class="ar" points="1142.7,1035.9 1149.1,1071.9 1136.3,1071.9"/>
<polygon class="ar" points="1142.7,1432.9 1136.3,1396.9 1149.1,1396.9"/>
<line class="d" x1="1081.5" y1="1090" x2="1081.5" y2="1378.9" />
<polygon class="ar" points="1081.5,1090 1087.9,1126 1075.1,1126"/>
<polygon class="ar" points="1081.5,1378.9 1075.1,1342.9 1087.9,1342.9"/>
<line class="d" x1="1013.4" y1="1149.1" x2="1013.4" y2="1319.6" />
<polygon class="ar" points="1013.4,1149.1 1019.8,1185.1 1007,1185.1"/>
<polygon class="ar" points="1013.4,1319.6 1007,1283.6 1019.8,1283.6"/>
<line class="d" x1="853.3" y1="1343.5" x2="853.3" y2="1527" />
<polygon class="ar" points="853.3,1414.6 846.9,1378.6 859.7,1378.6"/>
<polygon class="ar" points="853.3,1450.9 859.7,1486.9 846.9,1486.9"/>
<line class="d" x1="828.6" y1="1414.6" x2="869.8" y2="1414.6" />
<line class="d" x1="828.6" y1="1450.9" x2="869.8" y2="1450.9" />
<line class="d" x1="826.6" y1="1527" x2="1004" y2="1527" />
<polygon class="ar" points="880.2,1527 844.2,1533.4 844.2,1520.6"/>
<polygon class="ar" points="932.4,1527 968.4,1520.6 968.4,1533.4"/>
<line class="d" x1="880.2" y1="1485.8" x2="880.2" y2="1557" />
<line class="d" x1="932.4" y1="1393.8" x2="932.4" y2="1693" />
<rect class="w" x="886" y="1415.5" width="36.5" height="34.5"/>
<path class="o" d="M884.6,1414.6 L923,1414.6 L923,1450.9 L884.6,1450.9" />
<line class="o" x1="885.5" y1="1400" x2="885.5" y2="1470" style="stroke-width:5"/>
<line class="o" x1="922.5" y1="1410" x2="922.5" y2="1455" style="stroke-width:4"/>
<line x1="887" y1="1432.8" x2="921" y2="1432.8" stroke="#000" stroke-width="1.8" stroke-dasharray="6 4"/>
<line class="d" x1="588.35" y1="1663.2" x2="931.6" y2="1663.2" />
<polygon class="ar" points="588.35,1663.2 624.35,1656.8 624.35,1669.6"/>
<polygon class="ar" points="932.4,1663.2 896.4,1669.6 896.4,1656.8"/>
<text transform="translate(558.98,140.13) scale(0.81,1)" font-size="49.7" text-anchor="start" >ØD0</text>
<text transform="translate(973.2,302.92) rotate(-90) scale(0.87,1)" font-size="49.67" text-anchor="start" >m</text>
<text transform="translate(1308.7,760.32) rotate(-90) scale(0.86,1)" font-size="51.64" text-anchor="start" >≈H</text>
<text transform="translate(998.1,1264.06) rotate(-90) scale(0.78,1)" font-size="52.66" text-anchor="start" >DN</text>
<text transform="translate(1064.33,1276.23) rotate(-90) scale(0.82,1)" font-size="49.83" text-anchor="start" >ØD2</text>
<text transform="translate(1125.63,1273.56) rotate(-90) scale(0.78,1)" font-size="49.83" text-anchor="start" >ØD1</text>
<text transform="translate(1193.13,1264.72) rotate(-90) scale(0.81,1)" font-size="49.83" text-anchor="start" >ØD</text>
<text transform="translate(1309,1430.24) rotate(-90) scale(0.7,1)" font-size="52.36" text-anchor="start" >H1</text>
<text transform="translate(836.64,1480.33) rotate(-90) scale(0.85,1)" font-size="49.44" text-anchor="start" >n-Ød</text>
<text transform="translate(893.37,1510.81) scale(0.86,1)" font-size="48.7" text-anchor="start" >b</text>
<text transform="translate(746.96,1648) scale(0.85,1)" font-size="52.07" text-anchor="start" >L</text>
<text transform="translate(502.42,1775) scale(0.81,1)" font-size="59.22" text-anchor="start" >BS</text>
<text transform="translate(474.39,1847) scale(0.83,1)" font-size="59.78" text-anchor="start" >Type BS</text>
<g fill="#000">
<path class="ar" d="M575,1729.8 L600,1729.8 L603.5,1726.5 L607,1730 L607,1731.6 L575,1731.8 Z" />
<path class="ar" d="M573.4,1741.6 L602,1741.6 L605,1738.5 L609,1742.2 L609,1743.6 L573.4,1743.8 Z" />
<path class="ar" d="M582.8,1731 L586,1731 L586,1744 C585,1753 580,1759 572,1763 L571.8,1762.3 C578,1757 582.5,1751 582.8,1744 Z" />
<path class="ar" d="M593,1731 L596.5,1731 L596,1758.4 L593.3,1759.4 Z" />
<path class="ar" d="M608,1732 L611.5,1733.5 L611,1750.5 L608,1751 Z" />
<path class="ar" d="M617.6,1726 L622,1728.5 L621,1756 C620.5,1758 619,1759 617,1760 L614,1757 L609,1756 L609,1755.2 L617.8,1755.2 Z" />
<path class="ar" d="M597.3,1758 L600.8,1759.5 L600.3,1777.5 L597.3,1777.5 Z" />
<path class="ar" d="M580,1766.2 L612.5,1766.2 L615.5,1763.5 L619,1767 L619,1767.8 L580,1768 Z" />
<path class="ar" d="M573,1777.2 L617,1777.2 L620.5,1773.8 L624.4,1777.8 L624.4,1778.8 L573,1779 Z" />
</g>
<path class="o" d="M722.3,1848.5 L722.3,1727.6 L842,1727.6" style="stroke-width:3.2;stroke-linecap:round;stroke-linejoin:miter"/>
<polygon class="ar" points="841.7,1711.2 940,1727.6 841.7,1744"/>
<path class="ow" d="M408.3,991 L408.3,978.5 Q408.3,974.7 412.3,974.7 L443.1,974.7 Q447.1,974.7 447.1,978.5 L447.1,991" style="stroke-width:3.4"/>
<line class="o" x1="417.6" y1="975" x2="417.6" y2="991" style="stroke-width:3.2"/>
<line class="o" x1="437" y1="975" x2="437" y2="991" style="stroke-width:3.2"/>
<path d="M416.6,975 L416.6,971.5 Q416.6,968.3 420.6,968.3 L434,968.3 Q438,968.3 438,971.5 L438,975 Z" fill="#000" stroke="#000" stroke-width="2.5" stroke-linejoin="round"/>
<rect x="453.7" y="1051.3" width="27.3" height="7.9" fill="#000"/>
<line x1="457.7" y1="1055.2" x2="478" y2="1055.2" stroke="#fff" stroke-width="1.1" stroke-dasharray="1.6 3"/>
<path class="ow" d="M729.6,991 L729.6,978.5 Q729.6,974.7 733.6,974.7 L764.4,974.7 Q768.4,974.7 768.4,978.5 L768.4,991" style="stroke-width:3.4"/>
<line class="o" x1="739.7" y1="975" x2="739.7" y2="991" style="stroke-width:3.2"/>
<line class="o" x1="759.1" y1="975" x2="759.1" y2="991" style="stroke-width:3.2"/>
<path d="M738.7,975 L738.7,971.5 Q738.7,968.3 742.7,968.3 L756.1,968.3 Q760.1,968.3 760.1,971.5 L760.1,975 Z" fill="#000" stroke="#000" stroke-width="2.5" stroke-linejoin="round"/>
<rect x="695.7" y="1051.3" width="27.3" height="7.9" fill="#000"/>
<line x1="699.7" y1="1055.2" x2="720" y2="1055.2" stroke="#fff" stroke-width="1.1" stroke-dasharray="1.6 3"/>
<line class="o" x1="931.8" y1="1149.6" x2="931.8" y2="1319.2" />
<line class="o" x1="444" y1="1577.7" x2="735" y2="1577.7" />
</svg>
</body></html>
